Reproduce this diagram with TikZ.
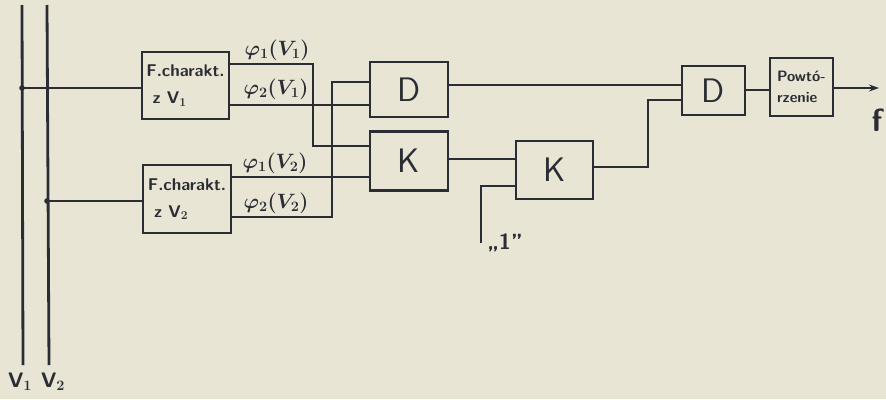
\documentclass[tikz,border=0pt]{standalone}
\usepackage{tikz}
\usetikzlibrary{arrows.meta,positioning}
\definecolor{ink}{HTML}{2A2D33}
\definecolor{paper}{HTML}{E9E5D5}
\tikzset{
  blk/.style={draw=ink,line width=2.8pt,fill=paper,inner sep=2pt,text=ink,font=\sffamily},
  fbox/.style={blk,minimum width=87pt,minimum height=67pt,align=left,
    font=\sffamily\bfseries\boldmath\fontsize{17}{27}\selectfont},
  gate/.style={blk,minimum width=78pt,font=\sffamily\fontsize{34}{36}\selectfont},
  wire/.style={draw=ink,line width=2.8pt},
  lbl/.style={text=ink,inner sep=1pt,font=\boldmath\fontsize{22}{24}\selectfont}
}
\begin{document}
\begin{tikzpicture}[x=1pt,y=-1pt]
  \fill[paper] (0,0) rectangle (886,399);
  \useasboundingbox (0,0) rectangle (886,399);
  % input buses
  \coordinate (v1top) at (22,5);
  \coordinate (v1bot) at (23,365);
  \coordinate (v2top) at (47,5);
  \coordinate (v2bot) at (49,365);
  \draw[wire] (v1top) -- (v1bot);
  \draw[wire] (v2top) -- (v2bot);
  \node[lbl,font=\sffamily\bfseries\boldmath\fontsize{21}{23}\selectfont] (v1lbl) at (20,382) {V$_1$};
  \node[lbl,font=\sffamily\bfseries\boldmath\fontsize{21}{23}\selectfont] (v2lbl) at (53,382) {V$_2$};
  \coordinate (j1) at (22,88);
  \coordinate (j2) at (47,201);
  % blocks
  \node[fbox] (fch1) at (185.5,85.5) {F.charakt.\\\ z V$_1$};
  \node[fbox,minimum width=88pt,minimum height=68pt] (fch2) at (187,199) {F.charakt.\\\ z V$_2$};
  \node[gate,minimum height=55pt] (d1) at (409,89.5) {D};
  \node[gate,minimum height=59pt] (k1) at (409,161) {K};
  \node[gate,minimum width=77pt,minimum height=58pt] (k2) at (554.5,170) {K};
  \node[gate,minimum width=63pt,minimum height=49pt] (d2) at (713.5,90.5) {D};
  \node[blk,minimum width=63pt,minimum height=58pt,align=left,
    font=\sffamily\bfseries\fontsize{15}{21}\selectfont] (powt) at (801.5,87) {Powtó-\\rzenie};
  % bus taps
  \fill[ink] (j1) circle (2.8pt);
  \fill[ink] (j2) circle (2.8pt);
  \draw[wire] (j1) -- (fch1.west |- j1);
  \draw[wire] (j2) -- (fch2.west |- j2);
  % characteristic function outputs
  \node[lbl] (phi11) at (277,50) {$\varphi_1(V_1)$};
  \node[lbl] (phi21) at (276,89) {$\varphi_2(V_1)$};
  \node[lbl] (phi12) at (275,163) {$\varphi_1(V_2)$};
  \node[lbl] (phi22) at (276,203) {$\varphi_2(V_2)$};
  \draw[wire] (fch1.east |- 0,64) -| (313,146) -- (k1.west |- 0,146);
  \draw[wire] (fch1.east |- 0,105) -- (d1.west |- 0,105);
  \draw[wire] (fch2.east |- 0,177) -- (k1.west |- 0,177);
  \draw[wire] (fch2.east |- 0,217) -| (332,82) -- (d1.west |- 0,82);
  % second stage
  \draw[wire] (d1.east |- 0,85) -- (d2.west |- 0,85);
  \draw[wire] (k1.east |- 0,159) -- (k2.west |- 0,159);
  \coordinate (onein) at (481,243);
  \node[lbl,font=\sffamily\bfseries\fontsize{22}{24}\selectfont] (one) at (505,243) {„1”};
  \draw[wire] (onein) |- (k2.west |- 0,186);
  \draw[wire] (k2.east |- 0,167) -| (648,100) -- (d2.west |- 0,100);
  \draw[wire] (d2.east |- 0,90) -- (powt.west |- 0,90);
  % output
  \coordinate (fout) at (879,88);
  \draw[wire,-{Stealth[length=10pt,width=7pt]}] (powt.east |- fout) -- (fout);
  \node[lbl,font=\sffamily\bfseries\fontsize{32}{34}\selectfont] (flbl) at (877,120) {f};
\end{tikzpicture}
\end{document}
